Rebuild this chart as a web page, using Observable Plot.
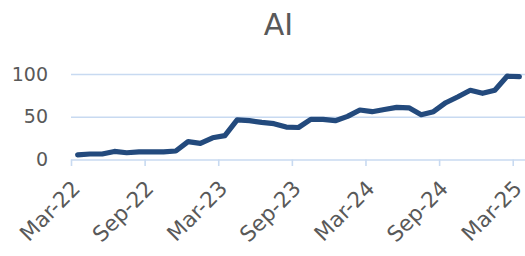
<!DOCTYPE html>
<html>
<head>
<meta charset="utf-8">
<script src="https://cdn.jsdelivr.net/npm/d3@7"></script>
<script src="https://cdn.jsdelivr.net/npm/@observablehq/plot@0.6"></script>
<style>
  html, body { margin: 0; padding: 0; background: #ffffff; }
  #chart { width: 525px; height: 256px; }
</style>
</head>
<body>
<div id="chart"></div>
<script>
const title = "AI";

const months = [
  "Mar-22","Apr-22","May-22","Jun-22","Jul-22","Aug-22","Sep-22","Oct-22","Nov-22","Dec-22","Jan-23","Feb-23",
  "Mar-23","Apr-23","May-23","Jun-23","Jul-23","Aug-23","Sep-23","Oct-23","Nov-23","Dec-23","Jan-24","Feb-24",
  "Mar-24","Apr-24","May-24","Jun-24","Jul-24","Aug-24","Sep-24","Oct-24","Nov-24","Dec-24","Jan-25","Feb-25",
  "Mar-25"
];

const values = [
  6, 7, 7, 10, 8.5, 9.5, 9.5, 9.5, 10.5, 21.5, 19.5, 26,
  28.5, 47, 46, 44, 42.5, 38.5, 38, 47.5, 47.5, 46, 51, 58.5,
  56.5, 59, 61.5, 61, 53, 56.5, 67, 74, 81.5, 78, 81.5, 98,
  97.5
];

const tickLabels = ["Mar-22","Sep-22","Mar-23","Sep-23","Mar-24","Sep-24","Mar-25"];
const yTicks = [0, 50, 100];

const data = months.map((m, i) => ({month: m, value: values[i]}));

const BLUE_GRID = "#c8daf1";
const LINE = "#234a7d";
const TEXT = "#595959";
const FONT = "'DejaVu Sans', sans-serif";

// slot start of a month on the category axis; points sit at the slot's middle
const slot = (m) => months.indexOf(m);

const chart = Plot.plot({
  width: 525,
  height: 256,
  marginLeft: 71,
  marginRight: 0,
  marginTop: 74,
  marginBottom: 96.5,
  style: {fontFamily: FONT, fontSize: "19px", color: TEXT, background: "#ffffff"},
  x: {type: "linear", domain: [0, months.length], axis: null},
  y: {domain: [0, 100], axis: null},
  marks: [
    Plot.ruleY(yTicks, {stroke: BLUE_GRID, strokeWidth: 1.6}),
    Plot.axisY(yTicks, {tickSize: 0, tickPadding: 23.5, fill: TEXT, fontSize: 19, label: null}),
    Plot.axisX(tickLabels.map(slot), {tickSize: 6.5, stroke: BLUE_GRID, strokeWidth: 1.6, fill: "none", label: null}),
    Plot.axisX(tickLabels.map(slot), {
      tickSize: 0, tickPadding: 25, tickRotate: -45, dx: 5, label: null,
      tickFormat: (d) => months[d], fill: TEXT, fontSize: 21.5
    }),
    Plot.line(data, {
      x: (d) => slot(d.month) + 0.5,
      y: "value",
      stroke: LINE, strokeWidth: 5.2, strokeLinejoin: "round", strokeLinecap: "round"
    }),
    Plot.text([title], {frameAnchor: "top", lineAnchor: "middle", dx: -20, dy: -49.6, fontSize: 30, fill: TEXT, text: (d) => d})
  ]
});

document.getElementById("chart").appendChild(chart);
</script>
</body>
</html>
